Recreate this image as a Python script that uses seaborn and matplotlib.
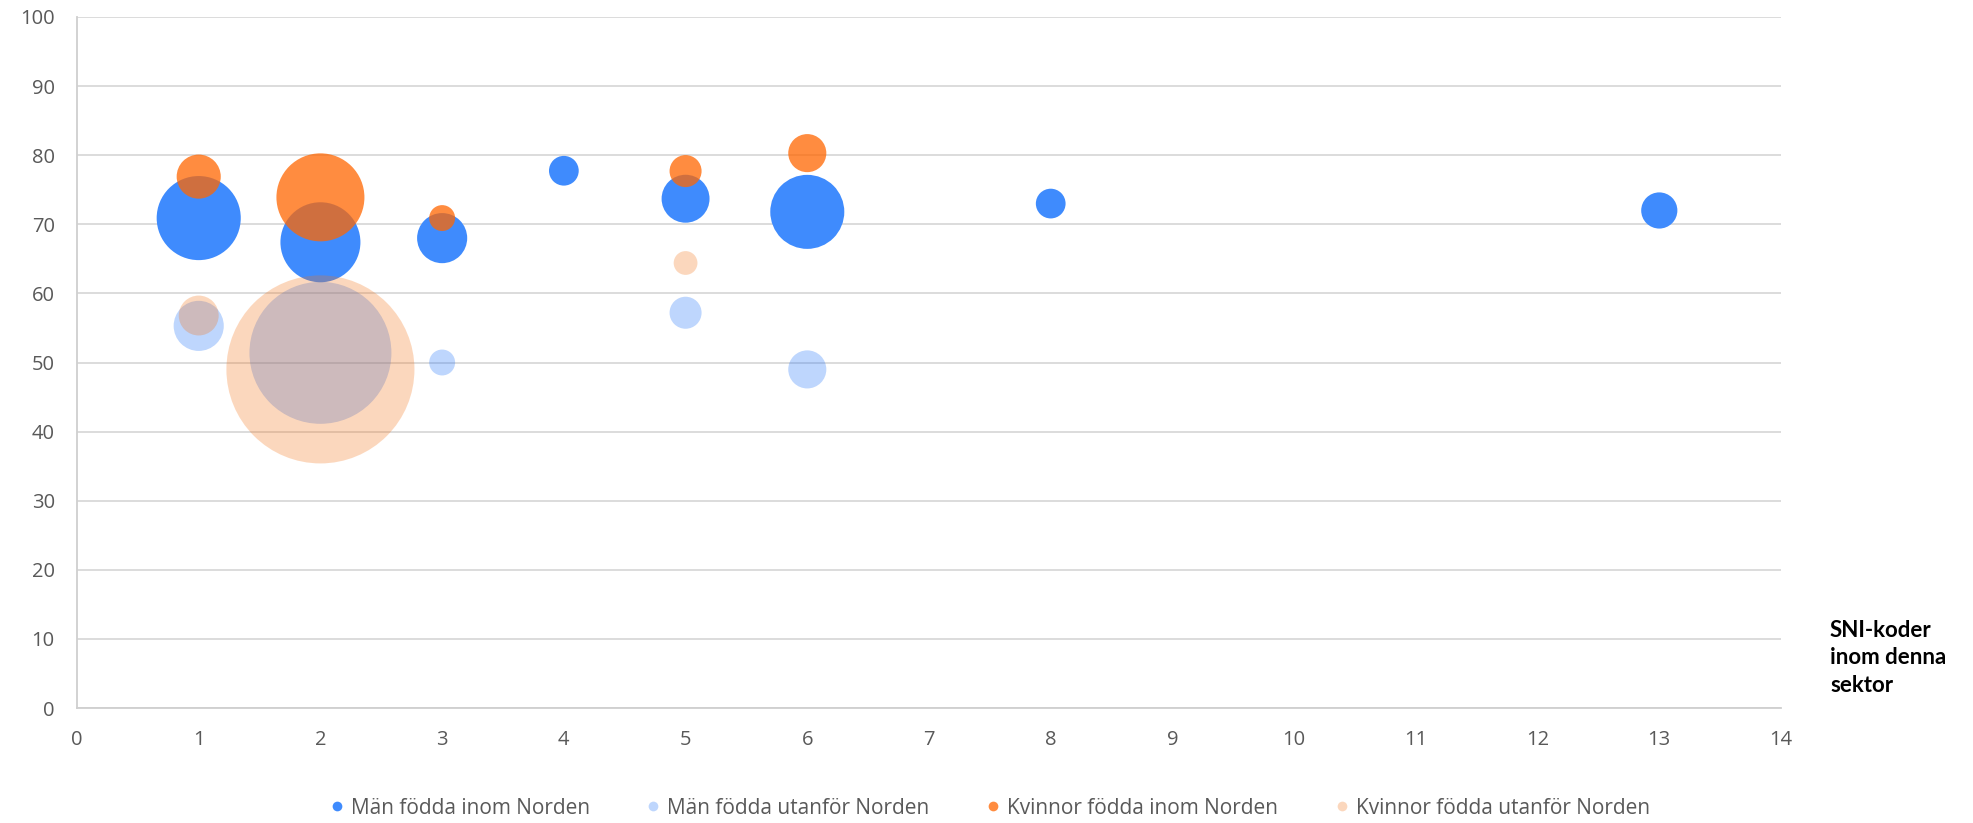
import matplotlib
matplotlib.use("Agg")
import matplotlib.pyplot as plt
from matplotlib.lines import Line2D
import seaborn as sns
import pandas as pd

# ---- data ----
series_names = ["Män födda inom Norden", "Män födda utanför Norden",
                "Kvinnor födda inom Norden", "Kvinnor födda utanför Norden"]

men_in_x = [1, 2, 3, 4, 5, 6, 8, 13]
men_in_y = [70.9, 67.4, 68.0, 77.75, 73.7, 71.8, 73.0, 72.0]
men_in_size = [20.0, 18.1, 7.1, 2.5, 6.5, 15.5, 2.5, 3.7]

men_out_x = [1, 2, 3, 5, 6]
men_out_y = [55.3, 51.4, 50.0, 57.2, 49.0]
men_out_size = [7.1, 57.0, 1.9, 2.9, 4.1]

women_in_x = [1, 2, 3, 5, 6]
women_in_y = [76.9, 73.9, 70.9, 77.7, 80.3]
women_in_size = [5.5, 21.9, 1.9, 2.9, 4.1]

women_out_x = [1, 2, 5]
women_out_y = [56.8, 49.0, 64.4]
women_out_size = [4.5, 100.0, 1.6]

x_ticks = list(range(0, 15))
y_ticks = list(range(0, 101, 10))
x_label = "SNI-koder\ninom denna\nsektor"

# ---- style ----
sns.set_style("white")
plt.rcParams["font.family"] = ["Open Sans", "DejaVu Sans"]

W, H = 1973, 823
fig = plt.figure(figsize=(W / 100, H / 100), dpi=100)
left, right, top, bottom = 77, 1781, 17, 708
ax = fig.add_axes([left / W, 1 - bottom / H, (right - left) / W, (bottom - top) / H])

colors = [
    ((63 / 255, 139 / 255, 253 / 255), 1.0),
    ((40 / 255, 120 / 255, 250 / 255), 0.30),
    ((255 / 255, 103 / 255, 2 / 255), 0.755),
    ((244 / 255, 114 / 255, 20 / 255), 0.28),
]
series = [
    (men_in_x, men_in_y, men_in_size),
    (men_out_x, men_out_y, men_out_size),
    (women_in_x, women_in_y, women_in_size),
    (women_out_x, women_out_y, women_out_size),
]

MAX_AREA = 18330  # points^2 for size value 100
for (xs, ys, ss), (c, a), name in zip(series, colors, series_names):
    df = pd.DataFrame({"x": xs, "y": ys, "s": ss})
    sns.scatterplot(data=df, x="x", y="y", size="s", sizes=(0, MAX_AREA),
                    size_norm=(0, 100), color=c, alpha=a, linewidth=0,
                    legend=False, ax=ax, zorder=3)

ax.set_xlim(0, 14)
ax.set_ylim(0, 100)
ax.set_xticks(x_ticks)
ax.set_yticks(y_ticks)
ax.set_xlabel("")
ax.set_ylabel("")
ax.grid(axis="y", color="#d9d9d9", linewidth=1.3, zorder=0)
ax.set_axisbelow(True)
for s in ["top", "right"]:
    ax.spines[s].set_visible(False)
for s in ["left", "bottom"]:
    ax.spines[s].set_color("#cfcfcf")
    ax.spines[s].set_linewidth(1.3)
ax.tick_params(axis="both", length=0, labelsize=14.5, colors="#595959")
ax.tick_params(axis="y", pad=16)
ax.tick_params(axis="x", pad=16)

fig.text(1830 / W, 1 - 658 / H, x_label, ha="left", va="center",
         fontsize=16, fontweight="bold", color="#000000", linespacing=1.4,
         family=["Lato", "DejaVu Sans"])

handles = [Line2D([0], [0], marker="o", linestyle="", markersize=7,
                  markerfacecolor=c, markeredgewidth=0, alpha=a)
           for c, a in colors]
fig.legend(handles, series_names, loc="center", bbox_to_anchor=(989 / W, 1 - 808 / H),
           ncol=4, frameon=False, fontsize=15, labelcolor="#595959",
           handletextpad=0.27, columnspacing=2.65, handlelength=0.8)

fig.savefig("out.png", dpi=100)
